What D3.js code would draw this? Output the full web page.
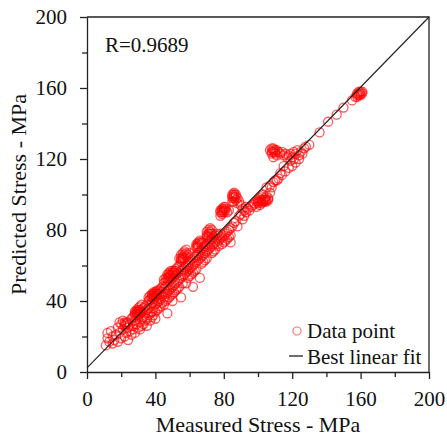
<!DOCTYPE html>
<html>
<head>
<meta charset="utf-8">
<script src="https://cdn.jsdelivr.net/npm/d3@7"></script>
<style>
  html, body { margin: 0; padding: 0; background: #fff; }
  svg { display: block; }
  svg text { font-family: "Liberation Serif", "Times New Roman", serif; }
</style>
</head>
<body>
<svg id="chart" width="447" height="437"></svg>
<script>
// measured vs predicted stress (MPa)
const pointsLow = [
  [11,15],[12,19],[12,22],[13,17],[14,23],[15,16],[15,20],[16,18],[17,21],[18,17],
  [18,25],[19,22],[19,28],[20,19],[20,27],[21,24],[21,29],[22,20],[22,26],[22,28],
  [23,22],[23,28],[24,25],[24,18],[25,27],[25,23],[26,30],[26,21],[27,31],[27,26],
  [27,24],[28,32],[28,34],[28,29],[28,22],[29,33],[29,35],[29,31],[29,27],[30,34],
  [30,36],[30,32],[30,25],[31,35],[31,37],[31,33],[31,28],[31,24],[32,34],[32,38],
  [32,30],[32,26],[33,36],[33,31],[33,27],[34,37],[34,33],[34,29],[35,38],[35,35],
  [35,30],[35,26],[36,40],[36,42],[36,36],[36,32],[37,41],[37,43],[37,38],[37,33],
  [37,29],[38,42],[38,44],[38,39],[38,34],[38,31],[39,43],[39,45],[39,41],[39,36],
  [39,32],[40,44],[40,42],[40,38],[40,34],[40,30]
];
const pointsMid = [
  [41,45],[41,43],[41,39],[41,35],[42,46],[42,44],[42,40],[42,36],[43,47],[43,45],
  [43,41],[43,37],[44,48],[44,43],[44,39],[45,50],[45,52],[45,47],[45,42],[45,38],
  [46,51],[46,53],[46,48],[46,44],[46,40],[47,52],[47,55],[47,49],[47,45],[47,33],
  [47,41],[48,54],[48,56],[48,51],[48,46],[48,42],[49,55],[49,57],[49,52],[49,47],
  [49,43],[50,56],[50,53],[50,48],[50,44],[50,40],[51,57],[51,54],[51,49],[51,45],
  [52,58],[52,55],[52,50],[52,46],[53,59],[53,56],[53,51],[53,47],[54,64],[54,60],
  [54,52],[54,48],[55,66],[55,62],[55,57],[55,53],[55,42],[56,67],[56,63],[56,58],
  [56,54],[56,50],[57,68],[57,64],[57,59],[57,55],[58,69],[58,65],[58,60],[58,56],
  [58,50],[59,66],[59,61],[59,57],[59,53],[60,67],[60,62],[60,58],[60,54],[61,63],
  [61,59],[61,55],[62,64],[62,60],[62,56],[62,48],[63,65],[63,61],[63,57],[64,72],
  [64,70],[64,66],[64,62],[64,58],[65,73],[65,71],[65,67],[65,63],[66,74],[66,68],
  [66,64],[66,53],[67,72],[67,69],[67,65],[67,61],[68,73],[68,70],[68,66],[68,62],
  [69,71],[69,67],[69,63],[70,79],[70,76],[70,72],[70,68],[70,64]
];
const pointsHigh = [
  [71,80],[71,77],[71,73],[71,69],[72,81],[72,78],[72,74],[72,70],[73,80],[73,75],
  [73,71],[73,67],[74,76],[74,72],[74,68],[75,77],[75,73],[75,69],[76,78],[76,75],
  [76,72],[77,77],[77,74],[77,71],[78,91],[78,88],[78,78],[78,75],[79,92],[79,89],
  [79,76],[79,72],[80,93],[80,90],[80,77],[80,73],[81,92],[81,91],[81,78],[81,74],
  [82,90],[82,79],[82,75],[83,91],[83,80],[83,76],[84,73],[84,81],[84,77],[85,100],
  [85,98],[85,96],[85,82],[86,101],[86,99],[86,96],[86,84],[87,100],[87,97],[87,85],
  [88,98],[88,95],[88,82],[89,96],[89,88],[90,94],[90,89],[91,86],[91,92],[92,91],
  [92,88],[93,93],[93,90],[94,92],[95,91],[96,93],[97,94],[98,95],[99,96],[99,93],
  [100,97],[100,95],[101,98],[101,94],[102,97],[102,99],[103,96],[103,100],[104,98],[104,97],
  [105,99],[105,96],[106,98],[106,97],[105,104],[107,101],[107,105],[108,104],[109,107],[110,108]
];
const pointsTop = [
  [107,125],[108,126],[108,123],[109,125],[109,121],[110,124],[111,125],[111,122],[112,124],[113,123],
  [114,124],[115,122],[116,123],[117,121],[118,122],[119,123],[120,121],[121,124],[122,123],[123,125],
  [124,122],[125,124],[126,123],[124,120],[122,118],[120,116],[118,115],[116,113],[114,111],[112,109],
  [111,108],[113,112],[115,116],[119,119],[121,120],[127,126],[128,127],[130,128],[136,135],[141,141],
  [146,145],[150,149],[155,153],[157,155],[158,157],[159,158],[160,157],[159,156],[158,155],[160,158],
  [161,157]
];
// tight clumps that read as solid red blobs above the line
const pointsClumps = [
  [28,33],[29,34],[30,33],[31,34],[30,35],[29,32],[23,27],[24,28],[22,27],
  [38,43],[39,44],[40,45],[41,44],[40,43],[41,46],[39,42],
  [47,53],[48,55],[49,54],[50,55],[51,56],[50,57],[52,57],[48,53],
  [55,63],[56,65],[57,66],[56,64],[58,67],[55,64],
  [64,71],[65,72],[66,73],[65,70],[67,73],
  [70,77],[71,78],[72,79],[71,76],[73,78],
  [78,90],[79,91],[80,92],[81,93],[79,90],[80,91],
  [85,99],[86,100],[86,98],[87,99],
  [100,96],[101,96],[102,95],[103,97],[104,96],[105,97],[102,96],
  [108,124],[109,124],[110,125],[109,126],[110,123],
  [158,156],[159,157],[160,156],[161,158]
];
const axisTicks = [0, 40, 80, 120, 160, 200];
const minorTicks = [20, 60, 100, 140, 180];
const fitIntercept = 2.3;
const fitSlope = 0.9885;
const rLabel = 'R=0.9689';

const points = [...pointsLow, ...pointsMid, ...pointsHigh, ...pointsTop, ...pointsClumps];

const margin = { top: 17, right: 18, bottom: 65, left: 87 };
const W = 447, H = 437;
const width = W - margin.left - margin.right;
const height = H - margin.top - margin.bottom;
const ink = '#222';
const serif = '"Liberation Serif", "Times New Roman", serif';

const svg = d3.select('#chart');
const g = svg.append('g').attr('transform', `translate(${margin.left},${margin.top})`);

const x = d3.scaleLinear().domain([0, 200]).range([0, width]);
const y = d3.scaleLinear().domain([0, 200]).range([height, 0]);

// frame (top and right)
g.append('path')
  .attr('d', `M0,0H${width}V${height}`)
  .attr('fill', 'none')
  .attr('stroke', ink)
  .attr('stroke-width', 1.3);

// minor ticks
g.append('g')
  .attr('transform', `translate(0,${height})`)
  .call(d3.axisBottom(x).tickValues(minorTicks).tickSize(5).tickFormat(''))
  .call(a => a.select('.domain').remove());
g.append('g')
  .call(d3.axisLeft(y).tickValues(minorTicks).tickSize(5).tickFormat(''))
  .call(a => a.select('.domain').remove());

// major axes
g.append('g')
  .attr('class', 'x-axis')
  .attr('transform', `translate(0,${height})`)
  .call(d3.axisBottom(x).tickValues(axisTicks).tickSize(7).tickSizeOuter(0).tickPadding(12));
g.append('g')
  .attr('class', 'y-axis')
  .call(d3.axisLeft(y).tickValues(axisTicks).tickSize(7).tickSizeOuter(0).tickPadding(13));

g.selectAll('.x-axis, .y-axis')
  .attr('font-family', serif)
  .attr('font-size', 21);
g.selectAll('.tick line, .domain')
  .attr('stroke', ink)
  .attr('stroke-width', 1.3);
g.selectAll('.tick text')
  .attr('fill', '#111');

// points
g.append('g')
  .selectAll('circle')
  .data(points)
  .enter().append('circle')
  .attr('cx', d => x(d[0]))
  .attr('cy', d => y(d[1]))
  .attr('r', 4.5)
  .attr('fill', 'none')
  .attr('stroke', '#ff0000')
  .attr('stroke-opacity', 0.65)
  .attr('stroke-width', 1.3);

// best linear fit
g.append('line')
  .attr('x1', x(0))
  .attr('y1', y(fitIntercept))
  .attr('x2', x(200))
  .attr('y2', y(fitIntercept + fitSlope * 200))
  .attr('stroke', ink)
  .attr('stroke-width', 1.2);

// R label
g.append('text')
  .attr('x', 18)
  .attr('y', 35)
  .attr('font-family', serif)
  .attr('font-size', 21)
  .attr('fill', '#111')
  .text(rLabel);

// legend
const leg = g.append('g').attr('transform', `translate(${x(200) - 144},${y(0) - 53})`);
leg.append('circle')
  .attr('cx', 12).attr('cy', 12).attr('r', 4)
  .attr('fill', 'none')
  .attr('stroke', '#ff0000')
  .attr('stroke-opacity', 0.55)
  .attr('stroke-width', 1.2);
leg.append('text')
  .attr('x', 22).attr('y', 19)
  .attr('font-family', serif)
  .attr('font-size', 21)
  .attr('fill', '#111')
  .text('Data point');
leg.append('line')
  .attr('x1', 4).attr('x2', 18)
  .attr('y1', 37).attr('y2', 37)
  .attr('stroke', ink)
  .attr('stroke-width', 1.3);
leg.append('text')
  .attr('x', 22).attr('y', 45)
  .attr('font-family', serif)
  .attr('font-size', 21)
  .attr('fill', '#111')
  .text('Best linear fit');

// axis titles
svg.append('text')
  .attr('x', margin.left + width / 2)
  .attr('y', 432)
  .attr('text-anchor', 'middle')
  .attr('font-family', serif)
  .attr('font-size', 22)
  .attr('fill', '#111')
  .text('Measured Stress - MPa');

svg.append('text')
  .attr('transform', `translate(26,${margin.top + height / 2}) rotate(-90)`)
  .attr('text-anchor', 'middle')
  .attr('font-family', serif)
  .attr('font-size', 22)
  .attr('fill', '#111')
  .text('Predicted Stress - MPa');
</script>
</body>
</html>
